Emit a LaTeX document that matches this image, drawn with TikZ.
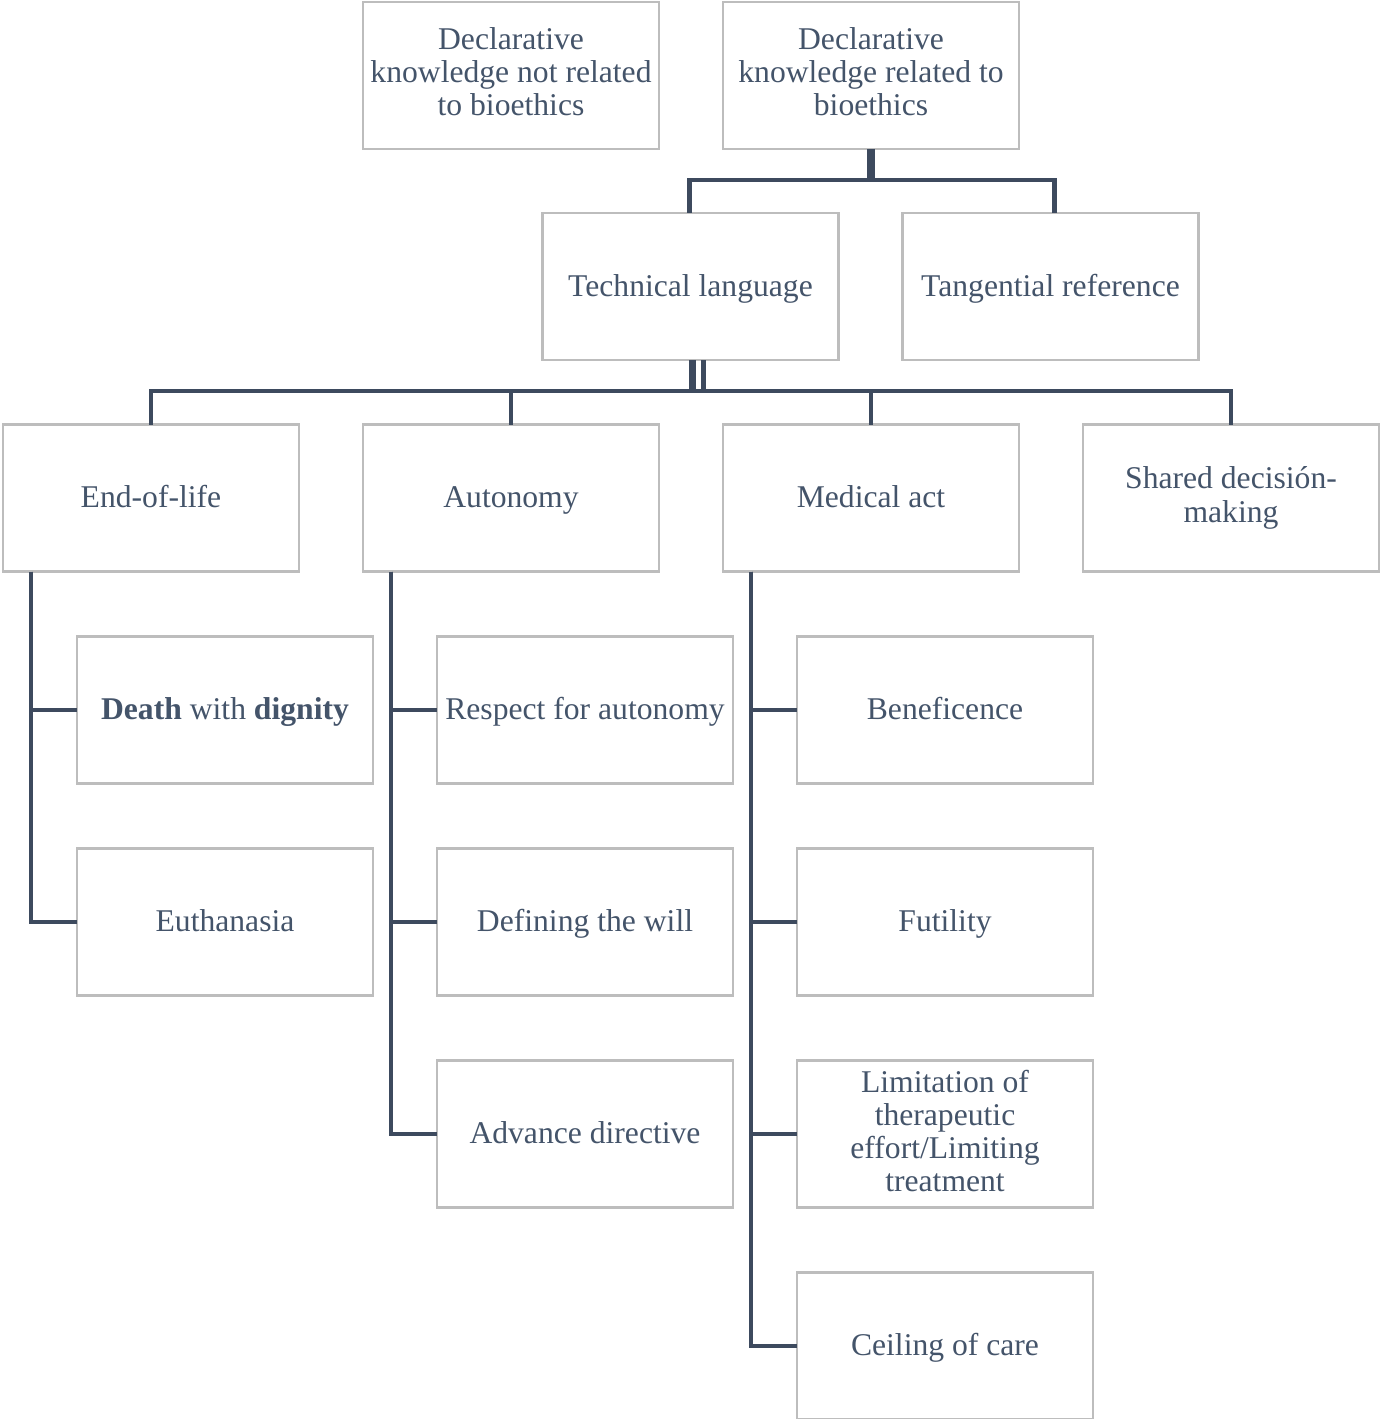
\documentclass[tikz,border=0pt]{standalone}
\usepackage{fontspec}
\setmainfont{Liberation Serif}
\usetikzlibrary{positioning}
\definecolor{slate}{HTML}{44546A}
\definecolor{linkcol}{HTML}{3D4A5E}
\definecolor{boxline}{HTML}{BDBDBD}
\newcommand{\boxstrut}{\rule[-4pt]{0pt}{19pt}}

\begin{document}
\begin{tikzpicture}[line join=miter,
  box/.style={draw=boxline, line width=1.6pt, fill=white, minimum width=5.92cm, minimum height=2.94cm, inner sep=1pt, outer sep=0pt, align=center, text=slate, font=\fontsize{18}{18.8}\selectfont, execute at begin node=\boxstrut, execute at end node=\boxstrut},
  link/.style={draw=linkcol, line width=2.3pt}]
\useasboundingbox (0,0) rectangle (27.64,-28.38);
% Top row
\node[box] (notrel) at (10.22,-1.51) {Declarative\\knowledge not related\\to bioethics};
\node[box, right=1.28cm of notrel] (rel) {Declarative\\knowledge related to\\bioethics};
\node[box, below=1.28cm of rel, xshift=-3.61cm] (tech) {Technical language};
\node[box, right=1.28cm of tech] (tang) {Tangential reference};
% Categories
\node[box] (eol) at (3.02,-9.96) {End-of-life};
\node[box, right=1.28cm of eol] (aut) {Autonomy};
\node[box, right=1.28cm of aut] (med) {Medical act};
\node[box, right=1.28cm of med] (shared) {Shared decisión-\\making};
% Sub items
\node[box, below=1.3cm of eol, xshift=1.48cm] (dwd) {\textbf{Death} with \textbf{dignity}};
\node[box, below=1.3cm of dwd] (euth) {Euthanasia};
\node[box, below=1.3cm of aut, xshift=1.48cm] (resp) {Respect for autonomy};
\node[box, below=1.3cm of resp] (will) {Defining the will};
\node[box, below=1.3cm of will] (adv) {Advance directive};
\node[box, below=1.3cm of med, xshift=1.48cm] (benef) {Beneficence};
\node[box, below=1.3cm of benef] (fut) {Futility};
\node[box, below=1.3cm of fut] (limit) {Limitation of\\therapeutic\\effort/Limiting\\treatment};
\node[box, below=1.3cm of limit] (ceil) {Ceiling of care};

% Connectors
\draw[link, line width=4.5pt] (rel.south) -- ++(0,-0.62) coordinate (top);
\draw[link] (top) -| ([xshift=-.02cm]tech.north);
\draw[link] (top) -| ([xshift=.08cm]tang.north);

\draw[link, line width=4.5pt] ([xshift=.04cm]tech.south) -- ++(0,-0.62) coordinate (bus);
\draw[link] ([xshift=.26cm]tech.south) -- ++(0,-0.62);
\foreach \c in {eol,aut,med,shared}
  \draw[link] (bus) -| (\c.north);

\foreach \p/\c in {eol/dwd,eol/euth,aut/resp,aut/will,aut/adv,med/benef,med/fut,med/limit,med/ceil}
  \draw[link] ([xshift=.56cm]\p.south west) |- (\c.west);
\end{tikzpicture}
\end{document}
